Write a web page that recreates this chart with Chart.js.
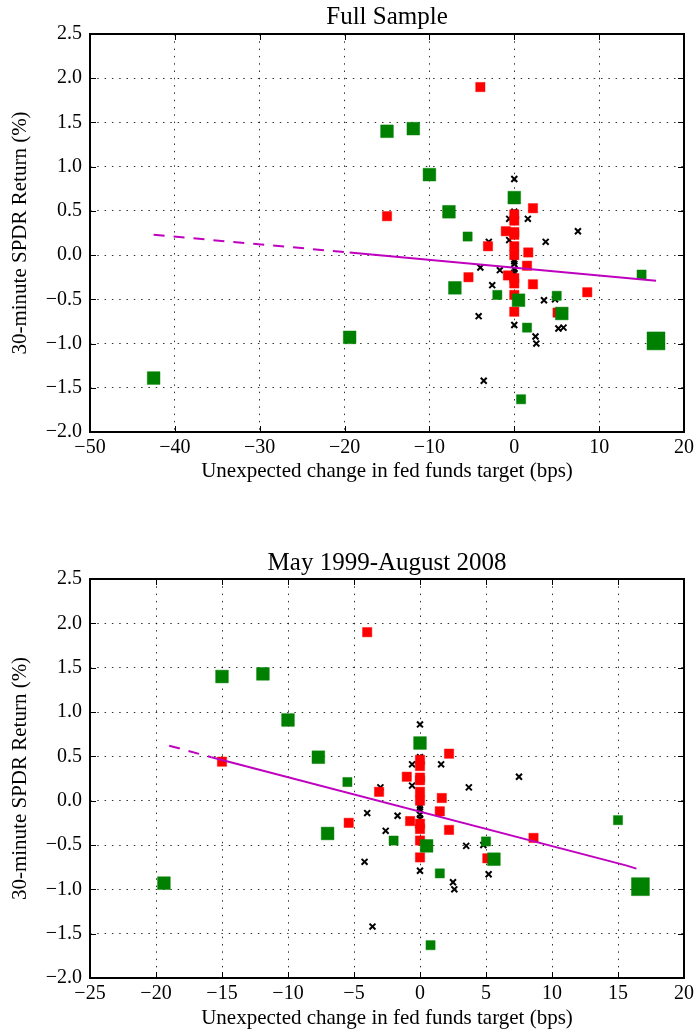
<!DOCTYPE html>
<html>
<head>
<meta charset="utf-8">
<title>SPDR return vs fed funds surprise</title>
<script src="https://cdn.jsdelivr.net/npm/chart.js@4.4.1/dist/chart.umd.min.js"></script>
<style>
    html, body { margin: 0; padding: 0; background: #fff; }
    canvas { display: block; }
</style>
</head>
<body>
<canvas id="full-chart" width="698" height="516"></canvas>
<canvas id="sub-chart" width="698" height="516"></canvas>
<script>
// Values (x = surprise in bps, y = 30-minute return in %)
const greenBigX = [-19.4, -15.0, -11.9, -10.0, -7.7, -7.0, 0.0, 0.5, 5.6];
const greenBigY = [-0.93, 1.40, 1.43, 0.91, 0.49, -0.37, 0.65, -0.51, -0.66];
const greenSmallX = [-5.5, -2.0, 5.0, 1.5, 0.8, 15.0];
const greenSmallY = [0.21, -0.45, -0.46, -0.82, -1.63, -0.22];
const greenHugeX = [16.7];
const greenHugeY = [-0.97];
const redX = [-15.0, -4.0, 2.2, 0.0, 0.0, -1.0, 0.0, 0.0, -3.1, 0.0, 0.0, 1.65, 1.5, -5.4, -0.75, 0.0, 0.0, 2.2, 8.6, 0.0, 0.0, 5.1];
const redY = [0.44, 1.90, 0.53, 0.46, 0.39, 0.27, 0.26, 0.23, 0.10, 0.10, 0.00, 0.03, -0.12, -0.25, -0.23, -0.26, -0.32, -0.33, -0.42, -0.45, -0.64, -0.65];
const crossX = [0.0, 0.0, -0.6, 1.6, 7.5, -3.0, -0.6, 3.7, 0.0, 0.0, 0.0, 0.0, -4.0, -1.7, -2.6, 3.5, 4.8, -4.2, 0.0, 5.2, 2.5, 2.6, -3.6];
const crossY = [0.86, 0.49, 0.41, 0.41, 0.27, 0.15, 0.17, 0.15, -0.07, -0.10, -0.16, -0.20, -0.14, -0.17, -0.34, -0.51, -0.50, -0.69, -0.79, -0.83, -0.92, -1.00, -1.42];

// Points that only show up in the full sample
const fullOnlyGreenX = [-42.5];
const fullOnlyGreenY = [-1.39];
const fullOnlyCrossX = [5.8];
const fullOnlyCrossY = [-0.82];

// Fitted regression lines (end points + where the dashes change)
const fullFitX = [-42.5, -19.4, 16.7];
const fullFitY = [0.23, 0.03, -0.29];
const subFitX = [-19.0, -15.8, 15.6, 16.7];
const subFitY = [0.62, 0.49, -0.73, -0.78];

const yTicks = [-2.0, -1.5, -1.0, -0.5, 0.0, 0.5, 1.0, 1.5, 2.0, 2.5];

const serif = "'Liberation Serif', 'Times New Roman', serif";

function toPoints(xs, ys) {
    return xs.map((x, i) => ({ x: x, y: ys[i] }));
}

function minusSign(text) {
    return String(text).replace("-", "\u2212");
}

// Frame round the plot with inward tick marks on all four sides
const framePlugin = {
    id: "frame",
    afterDraw(chart) {
        const { ctx, chartArea, scales } = chart;
        const len = 6;
        ctx.save();
        ctx.strokeStyle = "#000";
        ctx.lineWidth = 1;
        ctx.beginPath();
        scales.x.ticks.forEach((t) => {
            const px = Math.round(scales.x.getPixelForValue(t.value)) + 0.5;
            ctx.moveTo(px, chartArea.bottom);
            ctx.lineTo(px, chartArea.bottom - len);
            ctx.moveTo(px, chartArea.top);
            ctx.lineTo(px, chartArea.top + len);
        });
        scales.y.ticks.forEach((t) => {
            const py = Math.round(scales.y.getPixelForValue(t.value)) + 0.5;
            ctx.moveTo(chartArea.left, py);
            ctx.lineTo(chartArea.left + len, py);
            ctx.moveTo(chartArea.right, py);
            ctx.lineTo(chartArea.right - len, py);
        });
        ctx.stroke();
        ctx.lineWidth = 2;
        ctx.strokeRect(chartArea.left, chartArea.top, chartArea.right - chartArea.left, chartArea.bottom - chartArea.top);
        ctx.restore();
    },
};

function scatterChart(canvasId, cfg) {
    const chartCanvas = document.getElementById(canvasId);

    // If the chart canvas doesn't exist, exit the function
    if (!chartCanvas) {
        return;
    }

    const dashed = [11, 9];

    return new Chart(chartCanvas, {
        type: "scatter",
        data: {
            datasets: [
                {
                    label: "Fit",
                    type: "line",
                    data: toPoints(cfg.fitX, cfg.fitY),
                    borderColor: "#bf00bf",
                    borderWidth: 2,
                    pointRadius: 0,
                    fill: false,
                    tension: 0,
                    segment: {
                        borderDash: (ctx) => (cfg.dashedSegments.includes(ctx.p0DataIndex) ? dashed : undefined),
                    },
                },
                {
                    label: "Large surprise",
                    data: toPoints(greenHugeX, greenHugeY),
                    pointStyle: "rect",
                    pointRadius: 12.7,
                    backgroundColor: "#008000",
                    borderColor: "rgba(0,128,0,0.45)",
                    borderWidth: 1,
                },
                {
                    label: "Change",
                    data: toPoints(cfg.greenBigX, cfg.greenBigY),
                    pointStyle: "rect",
                    pointRadius: 9,
                    backgroundColor: "#008000",
                    borderColor: "rgba(0,128,0,0.45)",
                    borderWidth: 1,
                },
                {
                    label: "Small change",
                    data: toPoints(greenSmallX, greenSmallY),
                    pointStyle: "rect",
                    pointRadius: 6.5,
                    backgroundColor: "#008000",
                    borderColor: "rgba(0,128,0,0.45)",
                    borderWidth: 1,
                },
                {
                    label: "No change",
                    data: toPoints(redX, redY),
                    pointStyle: "rect",
                    pointRadius: 6.6,
                    backgroundColor: "#ff0000",
                    borderColor: "rgba(255,0,0,0.45)",
                    borderWidth: 1,
                },
                {
                    label: "Other",
                    data: toPoints(cfg.crossX, cfg.crossY),
                    pointStyle: "crossRot",
                    pointRadius: 4.2,
                    borderColor: "#000",
                    borderWidth: 2,
                },
            ],
        },
        options: {
            responsive: false,
            animation: false,
            events: [],
            devicePixelRatio: 1,
            layout: {
                padding: { left: 0, right: 13, top: 0, bottom: 0 },
            },
            plugins: {
                legend: { display: false },
                tooltip: { enabled: false },
                title: {
                    display: true,
                    text: cfg.title,
                    fullSize: false,
                    color: "#000",
                    font: { family: serif, size: 25, weight: "normal", lineHeight: 1.2 },
                    padding: cfg.titlePadding,
                },
            },
            scales: {
                x: {
                    type: "linear",
                    min: cfg.xMin,
                    max: cfg.xMax,
                    afterFit: (scale) => {
                        scale.height = cfg.xHeight;
                    },
                    ticks: {
                        stepSize: cfg.xStep,
                        color: "#000",
                        padding: 4,
                        maxRotation: 0,
                        font: { family: serif, size: 20 },
                        callback: (value) => minusSign(value),
                    },
                    grid: {
                        color: "rgba(0,0,0,0.8)",
                        lineWidth: 1,
                        drawTicks: false,
                    },
                    border: { display: false, dash: [1.5, 5.8] },
                    title: {
                        display: true,
                        text: "Unexpected change in fed funds target (bps)",
                        color: "#000",
                        font: { family: serif, size: 21, lineHeight: 1.2 },
                        padding: { top: 2, bottom: cfg.xTitleBottom },
                    },
                },
                y: {
                    type: "linear",
                    min: -2,
                    max: 2.5,
                    afterFit: (scale) => {
                        scale.width = 90;
                    },
                    afterBuildTicks: (scale) => {
                        scale.ticks = yTicks.map((v) => ({ value: v }));
                    },
                    ticks: {
                        color: "#000",
                        padding: 8,
                        font: { family: serif, size: 20 },
                        callback: (value) => minusSign(Number(value).toFixed(1)),
                    },
                    grid: {
                        color: "rgba(0,0,0,0.8)",
                        lineWidth: 1,
                        drawTicks: false,
                    },
                    border: { display: false, dash: [1.5, 5.8] },
                    title: {
                        display: true,
                        text: "30-minute SPDR Return (%)",
                        color: "#000",
                        font: { family: serif, size: 21, lineHeight: 1.2 },
                        padding: { top: 8, bottom: 2 },
                    },
                },
            },
        },
        plugins: [framePlugin],
    });
}

// Full sample (top)
scatterChart("full-chart", {
    title: "Full Sample",
    titlePadding: { top: 2, bottom: 2 },
    xMin: -50,
    xMax: 20,
    xStep: 10,
    xHeight: 84,
    xTitleBottom: 32,
    greenBigX: fullOnlyGreenX.concat(greenBigX),
    greenBigY: fullOnlyGreenY.concat(greenBigY),
    crossX: crossX.concat(fullOnlyCrossX),
    crossY: crossY.concat(fullOnlyCrossY),
    fitX: fullFitX,
    fitY: fullFitY,
    dashedSegments: [0],
});

// May 1999 - August 2008 (bottom)
scatterChart("sub-chart", {
    title: "May 1999-August 2008",
    titlePadding: { top: 32, bottom: 1 },
    xMin: -25,
    xMax: 20,
    xStep: 5,
    xHeight: 54,
    xTitleBottom: 1,
    greenBigX: greenBigX,
    greenBigY: greenBigY,
    crossX: crossX,
    crossY: crossY,
    fitX: subFitX,
    fitY: subFitY,
    dashedSegments: [0, 2],
});
</script>
</body>
</html>
